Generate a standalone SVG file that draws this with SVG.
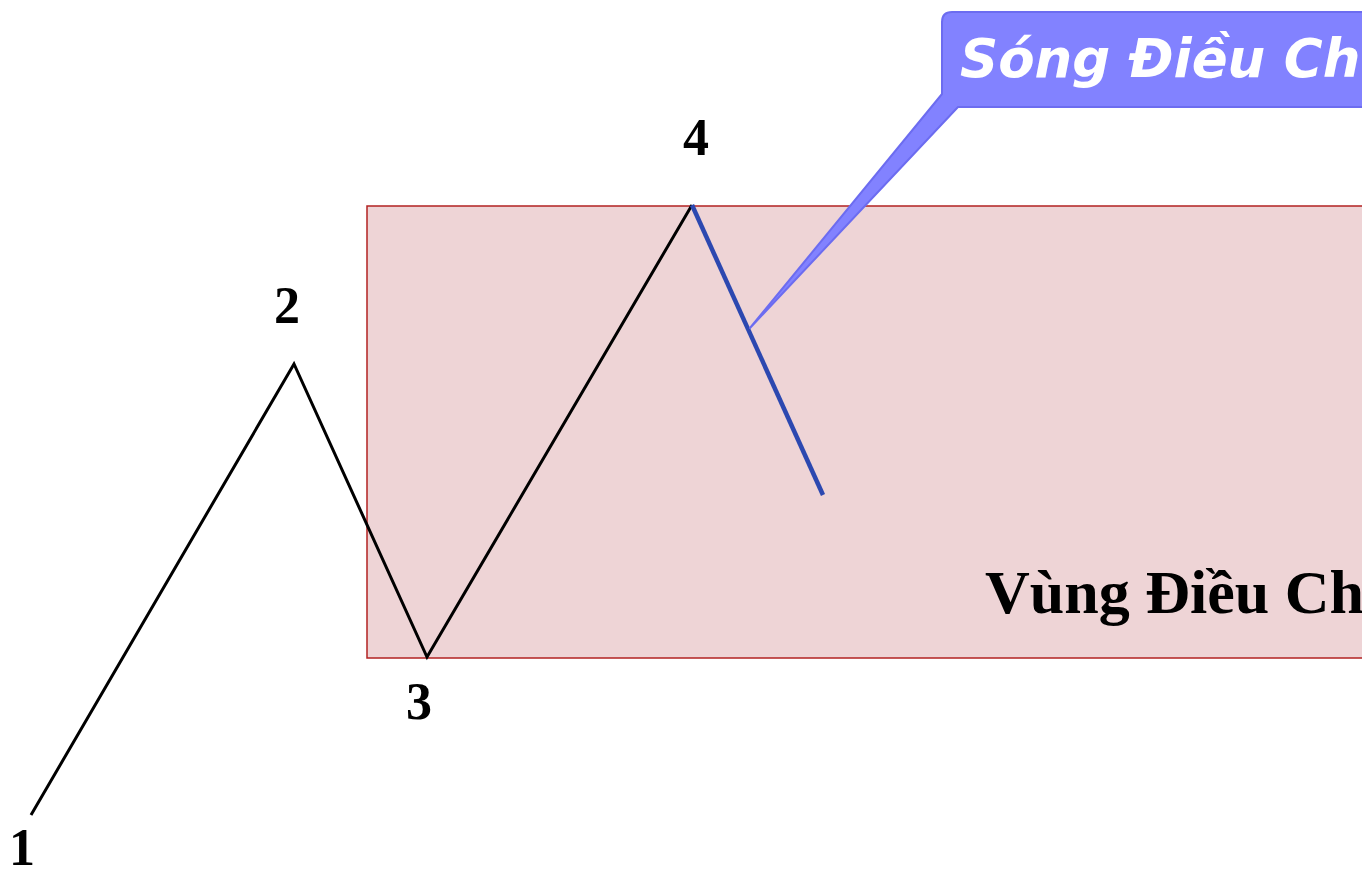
<svg xmlns="http://www.w3.org/2000/svg" width="1362" height="874" viewBox="0 0 1362 874">
<style>
.num{font-family:"Liberation Serif",serif;font-weight:bold;font-size:52px;fill:#000;text-anchor:middle}
.zone{font-family:"Liberation Serif",serif;font-weight:bold;font-size:62px;fill:#000}
.call{font-family:"DejaVu Sans",Verdana,sans-serif;font-weight:bold;font-style:italic;font-size:53px;fill:#fff}
</style>
<rect width="1362" height="874" fill="#fff"/>
<g id="zone">
<rect x="367" y="206" width="1000" height="452" fill="#eed4d6" stroke="#b22222" stroke-width="1.5"/>
<text class="zone" x="985" y="613">Vùng Điều Ch</text>
</g>
<g id="connectors">
<polyline points="31,815 294,364 427,657 692,205" fill="none" stroke="#000" stroke-width="3" stroke-linejoin="miter"/>
<line x1="692" y1="205" x2="823" y2="495" stroke="#2c48b0" stroke-width="4.5"/>
</g>
<g id="labels">
<text class="num" x="22" y="865">1</text>
<text class="num" x="287" y="323">2</text>
<text class="num" x="419" y="719">3</text>
<text class="num" x="696" y="155">4</text>
</g>
<g id="callout">
<path d="M952,12 H1380 V107 H958 L750,328 L942,94 V22 Q942,12 952,12 Z" fill="#8282ff" stroke="#6c6cf0" stroke-width="2" stroke-linejoin="round"/>
<text class="call" x="960" y="77">Sóng Điều Ch</text>
</g>
</svg>
